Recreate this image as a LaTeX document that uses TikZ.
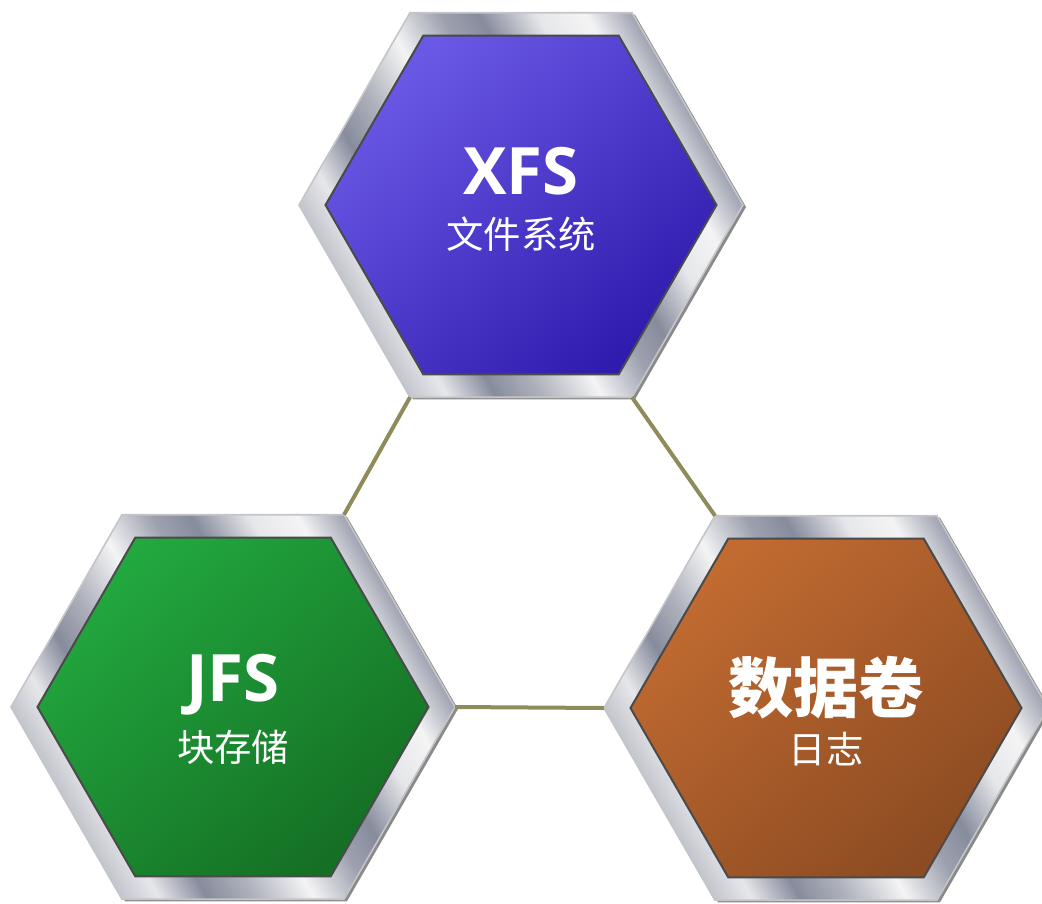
\documentclass[tikz,border=0pt]{standalone}
\usepackage{fontspec}
\usepackage{tikz}
\usetikzlibrary{shapes.geometric}
\newfontfamily\headfont{Open Sans}
\newfontfamily\cjkfont{Noto Sans CJK SC}

\definecolor{metalA}{HTML}{B0B3BD}
\definecolor{metalB}{HTML}{E6E7EA}
\definecolor{metalC}{HTML}{878C9D}
\definecolor{metalD}{HTML}{F4F4F5}
\definecolor{metalE}{HTML}{9DA1AF}
\definecolor{frameline}{HTML}{C4C5C8}
\definecolor{shadowgray}{HTML}{8A8A8A}
\definecolor{plateline}{HTML}{4A4A4A}
\definecolor{linkolive}{HTML}{8F8C5C}
\definecolor{blueA}{HTML}{6A58E6}
\definecolor{blueB}{HTML}{2F1CAE}
\definecolor{greenA}{HTML}{22A83F}
\definecolor{greenB}{HTML}{156F24}
\definecolor{rustA}{HTML}{C26B31}
\definecolor{rustB}{HTML}{8C4B22}

\pgfdeclarehorizontalshading{metal}{100bp}{color(0bp)=(metalA); color(25bp)=(metalA);
  color(31bp)=(metalB); color(36bp)=(metalC); color(41bp)=(metalA); color(47bp)=(metalD);
  color(53bp)=(metalE); color(57bp)=(metalC); color(63bp)=(metalB); color(68bp)=(metalD);
  color(73bp)=(metalE); color(75bp)=(metalA); color(100bp)=(metalA)}

\begin{document}
\begin{tikzpicture}[x=0.75pt,y=-0.75pt]
\tikzstyle{every node}+=[inner sep=0pt, outer sep=0pt]
\tikzstyle{hexshadow}=[regular polygon, regular polygon sides=6, minimum size=333pt, fill=shadowgray]
\tikzstyle{frame}=[regular polygon, regular polygon sides=6, minimum size=333pt, shading=metal, shading angle=30, draw=frameline, line width=1.2pt]
\tikzstyle{plate}=[regular polygon, regular polygon sides=6, minimum size=293.25pt, draw=plateline, line width=1.5pt]
\tikzstyle{title}=[text=white, font=\headfont\bfseries\fontsize{49}{49}\selectfont]
\tikzstyle{cjktitle}=[text=white, font=\cjkfont\bfseries\fontsize{49}{49}\selectfont]
\tikzstyle{subtitle}=[text=white, font=\cjkfont\fontsize{28}{30}\selectfont]
\tikzstyle{link}=[draw=linkolive, line width=3pt]
\useasboundingbox (0,0) rectangle (1042,903);

% XFS
\node[hexshadow] at (524,207) {};
\node[frame] (xfs) at (521,205) {};
\node[plate, top color=blueA, bottom color=blueB, shading angle=40] (xfsP) at (xfs.center) {};
\node[title] (xfsT) at ([yshift=25.1pt]xfs.center) {XFS};
\node[subtitle] (xfsS) at ([yshift=-21.75pt]xfs.center) {文件系统};

% JFS
\node[hexshadow] at (236,709) {};
\node[frame] (jfs) at (233,707) {};
\node[plate, top color=greenA, bottom color=greenB, shading angle=40] (jfsP) at (jfs.center) {};
\node[title] (jfsT) at ([yshift=16.5pt]jfs.center) {JFS};
\node[subtitle] (jfsS) at ([yshift=-30pt]jfs.center) {块存储};

% volume
\node[hexshadow] at (829,710) {};
\node[frame] (vol) at (826,708) {};
\node[plate, top color=rustA, bottom color=rustB, shading angle=40] (volP) at (vol.center) {};
\node[cjktitle] (volT) at ([yshift=15.4pt]vol.center) {数据卷};
\node[subtitle] (volS) at ([yshift=-31pt]vol.center) {日志};

% links
\draw[link] (xfs.240) -- (jfs.60);
\draw[link] (xfs.300) -- (vol.120);
\draw[link] (jfs.0) -- (vol.180);
\end{tikzpicture}
\end{document}
